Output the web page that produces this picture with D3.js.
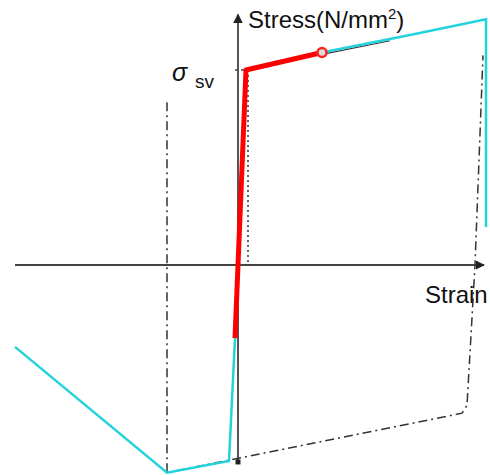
<!DOCTYPE html>
<html>
<head>
<meta charset="utf-8">
<title>Stress-strain</title>
<script src="https://d3js.org/d3.v7.min.js"></script>
<style>
  body { margin: 0; background: #fff; }
  text { font-family: "Liberation Sans", Arial, sans-serif; fill: #111; }
</style>
</head>
<body>
<svg id="chart"></svg>
<script>
// strain (x1e-3) / stress (N/mm2)
var sigmaSv = 200;

var monotonic = [[-0.3, -75], [0.8, 200], [8.4, 218]];
var markPoint = [8.4, 218];

var cyclicUpper = [[8.4, 218], [17.2, 236], [24.8, 252], [24.8, 39]];
var cyclicLower = [[-22.3, -84], [-7.1, -213], [-0.9, -201], [-0.3, -75]];

var envelope = [[-7.1, 167], [-7.1, -213], [22.4, -152], [22.9, -144], [23.7, 0], [24.5, 215]];
var envelopeTop = [[8.4, 216], [15.2, 230]];
var unloading = [[1.0, 200], [1.0, 0]];

var xAxisRange = [-22.3, 24.6];
var yAxisRange = [-202, 257];

var width = 490, height = 475;

var svg = d3.select("#chart")
    .attr("width", width)
    .attr("height", height);

var x = d3.scaleLinear().domain([0, 10]).range([238, 338]),
    y = d3.scaleLinear().domain([0, sigmaSv]).range([265, 70]);

var line = d3.line()
    .x(function(d) { return x(d[0]); })
    .y(function(d) { return y(d[1]); });

// arrow heads
var defs = svg.append("defs");
defs.append("marker")
    .attr("id", "arrow")
    .attr("viewBox", "0 0 10 10")
    .attr("refX", 9).attr("refY", 5)
    .attr("markerWidth", 5).attr("markerHeight", 5)
    .attr("markerUnits", "strokeWidth")
    .attr("orient", "auto")
  .append("path")
    .attr("d", "M0,0L10,5L0,10z")
    .attr("fill", "#222");

// axes
svg.append("line")
    .attr("x1", x(xAxisRange[0])).attr("y1", y(0))
    .attr("x2", x(xAxisRange[1])).attr("y2", y(0))
    .attr("stroke", "#444")
    .attr("stroke-width", 1.8)
    .attr("marker-end", "url(#arrow)");

svg.append("line")
    .attr("x1", x(0)).attr("y1", y(yAxisRange[0]))
    .attr("x2", x(0)).attr("y2", y(yAxisRange[1]))
    .attr("stroke", "#555")
    .attr("stroke-width", 2)
    .attr("marker-end", "url(#arrow)");

svg.append("rect")
    .attr("x", x(0) - 2.5).attr("y", y(yAxisRange[0]) - 2.5)
    .attr("width", 5).attr("height", 5)
    .attr("fill", "#222");

// dash-dot envelope
svg.append("path")
    .datum(envelope)
    .attr("d", line)
    .attr("fill", "none")
    .attr("stroke", "#333")
    .attr("stroke-width", 1.5)
    .attr("stroke-dasharray", "9,4,2,4");

svg.append("path")
    .datum(envelopeTop)
    .attr("d", line)
    .attr("fill", "none")
    .attr("stroke", "#333")
    .attr("stroke-width", 1.2);

// dotted unloading line and sigma_sv tick
svg.append("path")
    .datum(unloading)
    .attr("d", line)
    .attr("fill", "none")
    .attr("stroke", "#333")
    .attr("stroke-width", 1.5)
    .attr("stroke-dasharray", "2,3");

svg.append("path")
    .datum([[-0.3, sigmaSv], [0.8, sigmaSv]])
    .attr("d", line)
    .attr("fill", "none")
    .attr("stroke", "#444")
    .attr("stroke-width", 1.5)
    .attr("stroke-dasharray", "3,3");

// cyclic curve
[cyclicUpper, cyclicLower].forEach(function(s) {
  svg.append("path")
      .datum(s)
      .attr("d", line)
      .attr("fill", "none")
      .attr("stroke", "#22d3dc")
      .attr("stroke-width", 2.5);
});

// monotonic curve
svg.append("path")
    .datum(monotonic)
    .attr("d", line)
    .attr("fill", "none")
    .attr("stroke", "#ff0000")
    .attr("stroke-width", 5)
    .attr("stroke-linejoin", "round");

svg.append("circle")
    .attr("cx", x(markPoint[0])).attr("cy", y(markPoint[1]))
    .attr("r", 4.5)
    .attr("fill", "#ddd")
    .attr("stroke", "#ff2020")
    .attr("stroke-width", 2.5);

// labels
var title = svg.append("text")
    .attr("x", 248).attr("y", 28)
    .style("font-size", "24px");
title.append("tspan").text("Stress(N/mm");
title.append("tspan").attr("dy", -9).style("font-size", "15px").text("2");
title.append("tspan").attr("dy", 9).text(")");

svg.append("text")
    .attr("x", 425).attr("y", 303)
    .style("font-size", "24px")
    .text("Strain");

svg.append("text")
    .attr("x", 172).attr("y", 81)
    .style("font-size", "25px")
    .style("font-style", "italic")
    .text("σ");

svg.append("text")
    .attr("x", 195).attr("y", 88)
    .style("font-size", "19px")
    .text("sv");
</script>
</body>
</html>
